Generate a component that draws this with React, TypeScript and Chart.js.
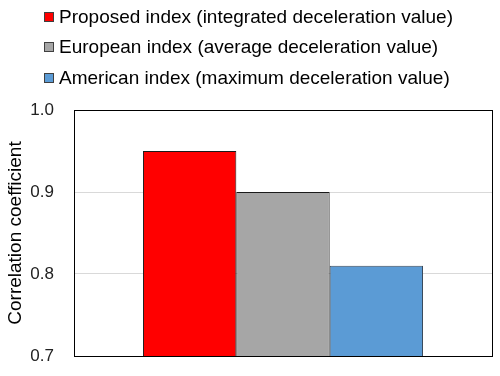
import React, { useEffect, useRef } from "react";
import { Chart, registerables } from "chart.js";

Chart.register(...registerables);

const categories = [""];
const seriesNames = [
  "Proposed index (integrated deceleration value)",
  "European index (average deceleration value)",
  "American index (maximum deceleration value)",
];
const proposedValues = [0.95];
const europeanValues = [0.9];
const americanValues = [0.81];
const fillColors = ["#FF0000", "#A6A6A6", "#5B9BD5"];
const borderColors = ["#1a1a1a", "#1a1a1a", "#3a4a5a"];
const yMin = 0.7;
const yMax = 1.0;
const yStep = 0.1;
const yTitle = "Correlation coefficient";

const FONT = "'Liberation Sans', Arial, sans-serif";

const boxPlugin = {
  id: "plotBox",
  afterDraw(chart: any) {
    const { ctx, chartArea } = chart;
    ctx.save();
    ctx.strokeStyle = "#000";
    ctx.lineWidth = 1;
    ctx.strokeRect(
      Math.round(chartArea.left) + 0.5,
      Math.round(chartArea.top) + 0.5,
      Math.round(chartArea.right - chartArea.left),
      Math.round(chartArea.bottom - chartArea.top)
    );
    ctx.restore();
  },
};

export default function App() {
  const ref = useRef<HTMLCanvasElement>(null);
  useEffect(() => {
    const values = [proposedValues, europeanValues, americanValues];
    const chart = new Chart(ref.current!, {
      type: "bar",
      data: {
        labels: categories,
        datasets: seriesNames.map((name, i) => ({
          label: name,
          data: values[i],
          backgroundColor: fillColors[i],
          borderColor: borderColors[i],
          borderWidth: 1,
          borderSkipped: false,
          barPercentage: 1,
          categoryPercentage: 0.67,
        })),
      },
      options: {
        animation: false,
        responsive: false,
        layout: { padding: { top: 110, right: 8, bottom: 20, left: 4 } },
        plugins: { legend: { display: false }, tooltip: { enabled: false } },
        scales: {
          x: {
            display: false,
          },
          y: {
            min: yMin,
            max: yMax,
            afterFit: (scale: any) => {
              scale.width = 70;
            },
            grid: {
              color: "#D9D9D9",
              drawTicks: true,
              tickLength: 20,
              tickColor: "rgba(0,0,0,0)",
              lineWidth: 1,
            },
            border: { display: false },
            ticks: {
              stepSize: yStep,
              padding: 0,
              color: "#222",
              font: { family: FONT, size: 17 },
              callback: (v: any) => Number(v).toFixed(1),
            },
            title: {
              display: true,
              text: yTitle,
              color: "#000",
              font: { family: FONT, size: 19 },
              padding: { top: 0, bottom: 0 },
            },
          },
        },
      },
      plugins: [boxPlugin],
    });
    return () => chart.destroy();
  }, []);

  const rowCenters = [17, 47, 78];
  return (
    <div
      style={{
        position: "fixed",
        left: 0,
        top: 0,
        width: 500,
        height: 376,
        background: "#fff",
      }}
    >
      <canvas ref={ref} width={500} height={376} style={{ position: "absolute", left: 0, top: 0 }} />
      {seriesNames.map((name, i) => (
        <div
          key={name}
          style={{
            position: "absolute",
            left: 44,
            top: rowCenters[i] - 11,
            height: 22,
            lineHeight: "22px",
            fontFamily: FONT,
            fontSize: 19,
            color: "#000",
            whiteSpace: "nowrap",
            display: "flex",
            alignItems: "center",
          }}
        >
          <span
            style={{
              display: "inline-block",
              width: 8,
              height: 8,
              background: fillColors[i],
              border: "1px solid #404040",
              marginRight: 5,
            }}
          />
          <span>{name}</span>
        </div>
      ))}
    </div>
  );
}
